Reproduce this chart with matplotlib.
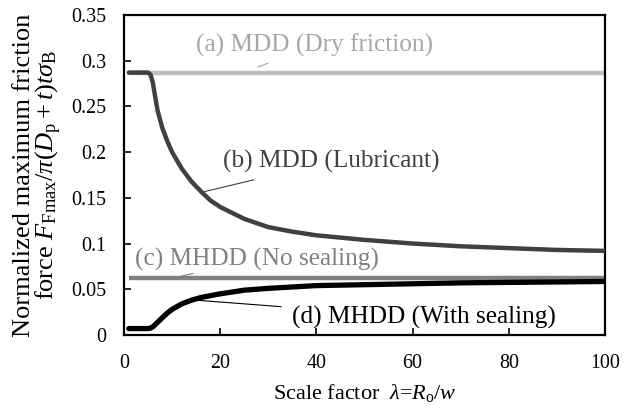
import matplotlib
matplotlib.use("Agg")
import matplotlib.pyplot as plt

plt.rcParams['font.family'] = ['Liberation Serif', 'DejaVu Serif']
plt.rcParams['mathtext.fontset'] = 'custom'
plt.rcParams['mathtext.rm'] = 'Liberation Serif'
plt.rcParams['mathtext.it'] = 'Liberation Serif:italic'
plt.rcParams['mathtext.bf'] = 'Liberation Serif:bold'

# Data
x_a = [1, 100]
y_a = [0.287, 0.287]

x_b = [1, 2, 3, 4, 5, 5.5, 6, 6.5, 7, 8, 9, 10, 12, 14, 16, 18, 20, 25, 30, 35, 40, 50, 60, 70, 80, 90, 100]
y_b = [0.287, 0.287, 0.287, 0.287, 0.287, 0.285, 0.276, 0.260, 0.245, 0.226, 0.212, 0.200, 0.182, 0.168, 0.157, 0.147, 0.140, 0.127, 0.118, 0.113, 0.109, 0.104, 0.100, 0.097, 0.095, 0.093, 0.092]

x_c = [1, 100]
y_c = [0.062, 0.062]

x_d = [1, 5, 5.5, 6, 7, 8, 9, 10, 12, 14, 16, 20, 25, 30, 40, 50, 60, 70, 80, 90, 100]
y_d = [0.007, 0.007, 0.0075, 0.009, 0.014, 0.019, 0.024, 0.028, 0.034, 0.038, 0.041, 0.045, 0.049, 0.051, 0.054, 0.055, 0.056, 0.057, 0.0575, 0.058, 0.0585]

x_ticks = [0, 20, 40, 60, 80, 100]
y_ticks = [0, 0.05, 0.1, 0.15, 0.2, 0.25, 0.3, 0.35]
y_tick_labels = ['0', '0.05', '0.1', '0.15', '0.2', '0.25', '0.3', '0.35']

fig = plt.figure(figsize=(6.25, 4.11), dpi=100)
ax = fig.add_axes([0.1984, 0.185, 0.7696, 0.7785])

ax.plot(x_a, y_a, color='#bfbfbf', lw=3.2, solid_capstyle='butt', zorder=2)
ax.plot(x_c, y_c, color='#808080', lw=3.2, solid_capstyle='butt', zorder=2)
ax.plot(x_d, y_d, color='black', lw=3.8, solid_capstyle='round', zorder=3)
ax.plot(x_b, y_b, color='#404040', lw=3.2, solid_capstyle='round', zorder=3)

fs = 18.2
ax.annotate('(a) MDD (Dry friction)', xy=(27.8, 0.293), xytext=(39.7, 0.317),
            ha='center', va='center', fontsize=fs, color='#a6a6a6',
            arrowprops=dict(arrowstyle='-', color='#a6a6a6', lw=0.8, shrinkA=7, shrinkB=0))
ax.annotate('(b) MDD (Lubricant)', xy=(16.1, 0.156), xytext=(43.1, 0.190),
            ha='center', va='center', fontsize=fs, color='#404040',
            arrowprops=dict(arrowstyle='-', color='#404040', lw=0.8, shrinkA=13, shrinkB=0))
ax.annotate('(c) MHDD (No sealing)', xy=(12.0, 0.0645), xytext=(27.6, 0.083),
            ha='center', va='center', fontsize=fs, color='#808080',
            arrowprops=dict(arrowstyle='-', color='#808080', lw=0.8, shrinkA=9, shrinkB=0))
ax.annotate('(d) MHDD (With sealing)', xy=(15.1, 0.038), xytext=(62.4, 0.019),
            ha='center', va='center', fontsize=fs, color='black',
            arrowprops=dict(arrowstyle='-', color='black', lw=0.8, shrinkA=6, shrinkB=0))

ax.set_xlim(0, 100)
ax.set_ylim(0, 0.35)
ax.set_xticks(x_ticks)
ax.set_yticks(y_ticks)
ax.set_yticklabels(y_tick_labels)
ax.tick_params(direction='in', length=5, width=1.2, labelsize=14.4)
ax.tick_params(axis='y', pad=13)
ax.tick_params(axis='x', pad=14)
for s in ax.spines.values():
    s.set_linewidth(1.6)

ax.set_xlabel(r'Scale factor  $\it{\lambda}$=$\it{R}_{\rm o}$/$\it{w}$', fontsize=16, labelpad=6)
ax.set_ylabel('Normalized maximum friction\n' +
              r'force $F_{\rm Fmax}/\pi(D_{\rm p}+t)t\sigma_{\rm B}$',
              fontsize=19, labelpad=5, linespacing=0.95)

fig.savefig('out.png', dpi=100)
